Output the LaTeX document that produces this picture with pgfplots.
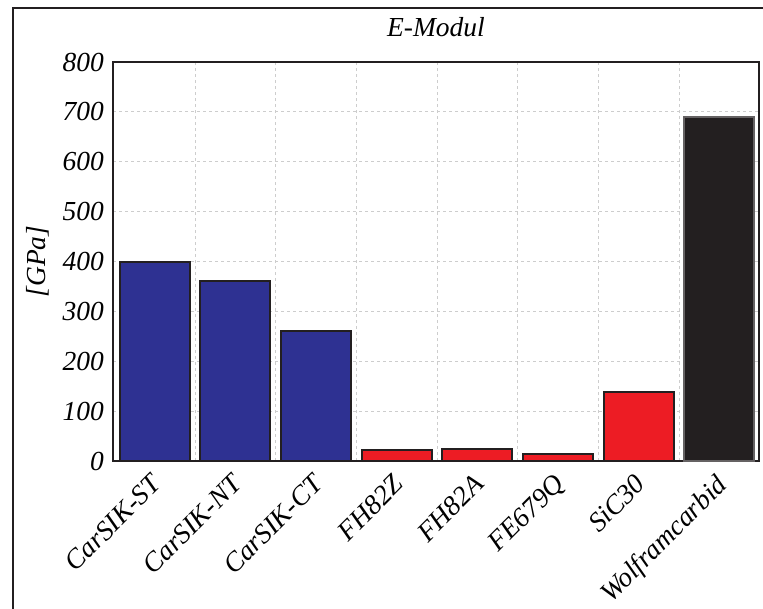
\documentclass[border=0pt]{standalone}
\usepackage{pgfplots}
\pgfplotsset{compat=1.18}
\usepackage{fontspec}
\setmainfont{Liberation Serif}
\definecolor{cblue}{RGB}{46,49,146}
\definecolor{cred}{RGB}{237,28,36}
\definecolor{cblack}{RGB}{35,31,32}
\definecolor{cgrid}{RGB}{205,205,205}
\begin{document}
\begin{tikzpicture}[x=1pt,y=1pt]
\path[use as bounding box] (0,0) rectangle (763,-608);
\draw[cblack, line width=2pt] (13,-7.5) rectangle (820,-660);
\begin{axis}[
  at={(113pt,-461pt)}, anchor=south west,
  scale only axis, width=646pt, height=399pt,
  xmin=-0.515, xmax=7.49, ymin=0, ymax=800,
  xtick={0,...,7},
  xticklabels={CarSIK-ST,CarSIK-NT,CarSIK-CT,FH82Z,FH82A,FE679Q,SiC30,Wolframcarbid},
  minor xtick={0.5,1.5,...,6.5},
  ytick={0,100,...,800},
  major tick length=0pt, minor tick length=0pt,
  ymajorgrids, xminorgrids,
  grid style={cgrid, dash pattern=on 3pt off 3pt, line width=0.8pt},
  minor grid style={cgrid, dash pattern=on 3pt off 3pt, line width=0.8pt},
  axis line style={cblack, line width=1.5pt},
  /pgf/number format/assume math mode=true,
  tick label style={font=\fontsize{27.5}{29}\selectfont\itshape},
  xticklabel style={xshift=-5pt, yshift=-6pt, rotate=45, anchor=north east, inner sep=4pt},
  yticklabel style={inner sep=9pt},
  title={E-Modul},
  title style={at={(axis description cs:0.5,1)}, anchor=base, yshift=20pt, font=\fontsize{27.5}{29}\selectfont\itshape},
  ylabel={[GPa]},
  ylabel style={at={(axis description cs:-0.116,0.5)}, rotate=0, anchor=center, font=\fontsize{27.5}{29}\selectfont\itshape},
  ybar, bar width=70pt,
]
\addplot[bar shift=0pt, fill=cblue, draw=cblack, line width=2pt] coordinates {(0,400) (1,360) (2,260)};
\addplot[bar shift=0pt, fill=cred, draw=cblack, line width=2pt] coordinates {(3,22) (4,24) (5,14) (6,139)};
\addplot[bar shift=0pt, fill=cblack, draw=cblack!70, line width=2pt] coordinates {(7,690)};
\end{axis}
\end{tikzpicture}
\end{document}
